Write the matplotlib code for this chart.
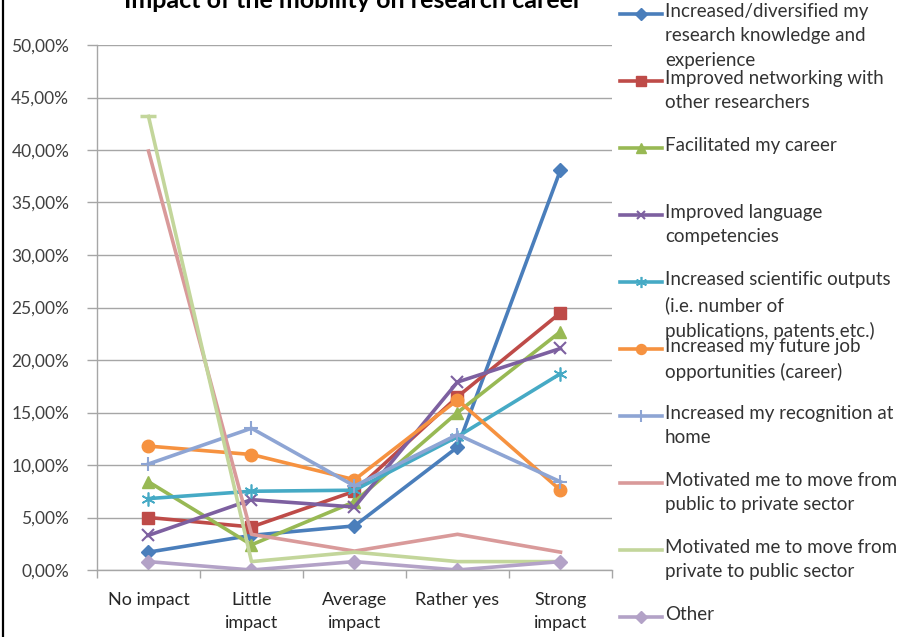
import matplotlib
matplotlib.use("Agg")
import matplotlib.pyplot as plt
from matplotlib.lines import Line2D
from matplotlib.ticker import FuncFormatter, FixedLocator

plt.rcParams['font.family'] = ['Lato', 'DejaVu Sans']

# Response categories on the x axis
categories = ["No impact", "Little\nimpact", "Average\nimpact", "Rather yes", "Strong\nimpact"]

# Share of respondents per category (fractions)
knowledge   = [0.017, 0.033, 0.042, 0.117, 0.381]
networking  = [0.050, 0.041, 0.075, 0.165, 0.245]
career      = [0.084, 0.024, 0.065, 0.150, 0.227]
language    = [0.033, 0.067, 0.060, 0.179, 0.211]
outputs     = [0.068, 0.075, 0.076, 0.127, 0.187]
job_opps    = [0.118, 0.110, 0.086, 0.162, 0.076]
recognition = [0.101, 0.135, 0.080, 0.129, 0.084]
pub_to_priv = [0.399, 0.034, 0.018, 0.034, 0.017]
priv_to_pub = [0.432, 0.008, 0.017, 0.008, 0.008]
other       = [0.008, 0.000, 0.008, 0.000, 0.008]

series_names = [
    "Increased/diversified my\nresearch knowledge and\nexperience",
    "Improved networking with\nother researchers",
    "Facilitated my career",
    "Improved language\ncompetencies",
    "Increased scientific outputs\n(i.e. number of\npublications, patents etc.)",
    "Increased my future job\nopportunities (career)",
    "Increased my recognition at\nhome",
    "Motivated me to move from\npublic to private sector",
    "Motivated me to move from\nprivate to public sector",
    "Other",
]
series_values = [knowledge, networking, career, language, outputs,
                 job_opps, recognition, pub_to_priv, priv_to_pub, other]

asterisk = (6, 2, 0)
styles = [
    dict(color="#4A7EBB", marker="D", ms=7.5),
    dict(color="#BE4B48", marker="s", ms=9),
    dict(color="#98B954", marker="^", ms=9),
    dict(color="#7D60A0", marker="x", ms=8, mew=1.5),
    dict(color="#46AAC5", marker=asterisk, ms=10, mew=1.2),
    dict(color="#F69240", marker="o", ms=9),
    dict(color="#8EA5D4", marker="+", ms=10, mew=1.5),
    dict(color="#D99A9A", marker=None, ms=0),
    dict(color="#C3D69B", marker="_", ms=12, mew=2.5, markevery=[0]),
    dict(color="#B3A2C7", marker="D", ms=7.5),
]

W, H = 904, 637
fig = plt.figure(figsize=(W / 100, H / 100), dpi=100)
ax = fig.add_axes([97 / W, 1 - 570 / H, (612 - 97) / W, (570 - 45) / H])

x = list(range(len(categories)))
for vals, st in zip(series_values, styles):
    kw = dict(color=st["color"], lw=2.6, marker=st["marker"], ms=st["ms"],
              mfc=st["color"], mec=st["color"], mew=st.get("mew", 1.0))
    if "markevery" in st:
        kw["markevery"] = st["markevery"]
    ax.plot(x, vals, **kw)

ax.set_xlim(-0.5, len(categories) - 0.5)
ax.set_ylim(0, 0.5)
ax.set_yticks([i * 0.05 for i in range(11)])
ax.yaxis.set_major_formatter(FuncFormatter(lambda v, p: f"{v * 100:.2f}%".replace(".", ",")))
ax.grid(axis="y", color="#a6a6a6", lw=1)
ax.set_axisbelow(True)

ax.set_xticks(x)
ax.set_xticklabels(categories, linespacing=1.55)
ax.xaxis.set_minor_locator(FixedLocator([i + 0.5 for i in range(-1, len(categories))]))
ax.tick_params(axis="x", which="major", length=0, pad=16, labelsize=13, labelcolor="#262626")
ax.tick_params(axis="x", which="minor", length=6, color="#a6a6a6", width=1)
ax.tick_params(axis="y", length=7, color="#a6a6a6", width=1, pad=13, labelsize=12.5, labelcolor="#404040")

for s in ["top", "right"]:
    ax.spines[s].set_visible(False)
for s in ["left", "bottom"]:
    ax.spines[s].set_color("#a6a6a6")
    ax.spines[s].set_linewidth(1)

# Title, partially above the canvas edge
fig.text(353 / W, 1 - 8 / H, "Impact of the mobility on research career",
         ha="center", va="baseline", fontsize=18, fontweight="bold", color="#000000")

# Legend drawn alongside the plot, handle aligned with the first text line
y0, step = 14, 67
for i, (name, st) in enumerate(zip(series_names, styles)):
    yy = 1 - (y0 + i * step) / H
    lm = st["marker"] if st["marker"] not in (None, "_") else None
    fig.add_artist(Line2D([620 / W, 662 / W], [yy, yy], transform=fig.transFigure,
                          color=st["color"], lw=2.6))
    if lm is not None:
        fig.add_artist(Line2D([641 / W], [yy], transform=fig.transFigure,
                              marker=lm, ms=st["ms"] * 0.8, mfc=st["color"],
                              mec=st["color"], mew=st.get("mew", 1.0), lw=0))
    fig.text(665 / W, yy + 11 / H, name, ha="left", va="top", fontsize=13.5,
             color="#333333", linespacing=1.52)

# Frame edge on the left
fig.add_artist(Line2D([3.5 / W, 3.5 / W], [0, 1], transform=fig.transFigure,
                      color="#000000", lw=1.6))

fig.savefig("out.png", dpi=100)
